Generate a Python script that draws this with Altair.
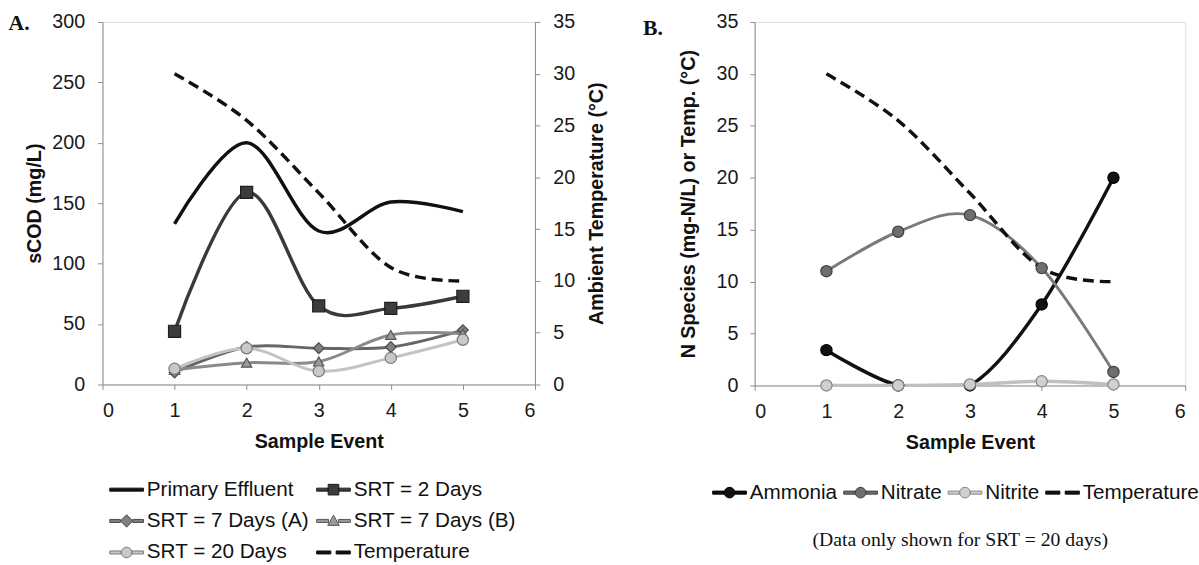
import altair as alt
import pandas as pd

# ---------------- data ----------------
events = [1, 2, 3, 4, 5]

# Panel A: sCOD (mg/L)
primary_effluent = [133, 200, 127, 151, 143]
srt_2_days = [44, 159, 65, 63, 73]
srt_7_days_a = [10, 31, 30, 31, 45]
srt_7_days_b = [12, 18, 19, 41, 42]
srt_20_days = [13, 30, 11, 22, 37]
# Ambient temperature (°C)
temperature = [30, 25.5, 18.5, 11.3, 10]

# Panel B: N species (mg-N/L), SRT = 20 days
ammonia = [3.4, 0, 0, 7.8, 20]
nitrate = [11, 14.8, 16.4, 11.3, 1.3]
nitrite = [0, 0, 0.1, 0.4, 0.1]

a_names = ["Primary Effluent", "SRT = 2 Days", "SRT = 7 Days (A)",
           "SRT = 7 Days (B)", "SRT = 20 Days", "Temperature"]
b_names = ["Ammonia", "Nitrate", "Nitrite", "Temperature"]

x_ticks = [0, 1, 2, 3, 4, 5, 6]
a_left_ticks = [0, 50, 100, 150, 200, 250, 300]
temp_ticks = [0, 5, 10, 15, 20, 25, 30, 35]


def long_df(names, series):
    rows = []
    for n, vals in zip(names, series):
        for e, v in zip(events, vals):
            rows.append({"event": e, "series": n, "value": v})
    return pd.DataFrame(rows)


df_a = long_df(a_names[:5], [primary_effluent, srt_2_days, srt_7_days_a,
                             srt_7_days_b, srt_20_days])
df_temp = long_df(["Temperature"], [temperature])
df_b = long_df(b_names, [ammonia, nitrate, nitrite, temperature])

# ---------------- styles ----------------
FONT = "Liberation Sans"
SERIF = "Liberation Serif"

axis_style = dict(domainColor="#8c8c8c", tickColor="#8c8c8c", tickSize=5,
                  labelFont=FONT, labelFontSize=20, labelColor="#1a1a1a",
                  titleFont=FONT, titleFontSize=20, titleFontWeight="bold",
                  titleColor="#111111", grid=False)

X = alt.X("event:Q", scale=alt.Scale(domain=[0, 6], nice=False),
          axis=alt.Axis(values=x_ticks, title="Sample Event", labelPadding=12,
                        titlePadding=11, **axis_style))

# line style: (color, width)
a_line = {
    "Primary Effluent": ("#111111", 3.5),
    "SRT = 2 Days": ("#3a3a3a", 3.5),
    "SRT = 7 Days (A)": ("#666666", 3),
    "SRT = 7 Days (B)": ("#8a8a8a", 3),
    "SRT = 20 Days": ("#c4c4c4", 3),
}
# marker style: (shape, fill, stroke, size)
a_marker = {
    "SRT = 2 Days": ("square", "#3c3c3c", "#1e1e1e", 150),
    "SRT = 7 Days (A)": ("diamond", "#808080", "#4a4a4a", 120),
    "SRT = 7 Days (B)": ("triangle-up", "#9a9a9a", "#555555", 110),
    "SRT = 20 Days": ("circle", "#c8c8c8", "#7a7a7a", 130),
}
b_line = {
    "Ammonia": ("#111111", 3.5),
    "Nitrate": ("#7a7a7a", 3),
    "Nitrite": ("#c0c0c0", 3.5),
}
b_marker = {
    "Ammonia": ("circle", "#111111", "#000000", 130),
    "Nitrate": ("circle", "#6e6e6e", "#404040", 130),
    "Nitrite": ("circle", "#cfcfcf", "#858585", 130),
}

# legend symbols (unit coordinates, scaled by sqrt(size)/2)
L = "M-1.9,-0.17H{a}V0.17H-1.9Z M{b},-0.17H1.9V0.17H{b}Z"
line_only = "M-1.9,-0.17H1.9V0.17H-1.9Z"
dashed = "M-1.9,-0.17H-0.3V0.17H-1.9Z M0.3,-0.17H1.9V0.17H0.3Z"
sq = L.format(a=-0.6, b=0.6) + " M-0.6,-0.6H0.6V0.6H-0.6Z"
dia = L.format(a=-0.7, b=0.7) + " M0,-0.7L0.7,0L0,0.7L-0.7,0Z"
tri = L.format(a=-0.55, b=0.55) + " M0,-0.65L0.65,0.5H-0.65Z"
circ = L.format(a=-0.6, b=0.6) + " M-0.6,0A0.6,0.6 0 1,0 0.6,0A0.6,0.6 0 1,0 -0.6,0Z"

a_leg_shapes = [line_only, sq, dia, tri, circ, dashed]
a_leg_fill = ["#111111", "#3c3c3c", "#808080", "#9a9a9a", "#c8c8c8", "#111111"]
a_leg_stroke = ["#111111", "#1e1e1e", "#4a4a4a", "#555555", "#7a7a7a", "#111111"]

b_leg_shapes = [circ, circ, circ, dashed]
b_leg_fill = ["#111111", "#6e6e6e", "#cfcfcf", "#111111"]
b_leg_stroke = ["#000000", "#404040", "#858585", "#111111"]


def legend_props(x, y, columns, col_pad, row_pad):
    return alt.Legend(title=None, orient="none", legendX=x, legendY=y,
                      direction="horizontal", columns=columns,
                      columnPadding=col_pad, rowPadding=row_pad,
                      labelFont=FONT, labelFontSize=21, labelColor="#111111",
                      labelLimit=400, labelOffset=10, symbolSize=324,
                      symbolStrokeWidth=1, symbolOpacity=1)


def legend_layer(df, names, shapes, fills, strokes, Y, leg):
    return alt.Chart(df).mark_point(filled=True, opacity=0).encode(
        x=X, y=Y,
        shape=alt.Shape("series:N", scale=alt.Scale(domain=names, range=shapes), legend=leg),
        fill=alt.Fill("series:N", scale=alt.Scale(domain=names, range=fills), legend=leg),
        stroke=alt.Stroke("series:N", scale=alt.Scale(domain=names, range=strokes), legend=leg),
    )


# ---------------- Panel A ----------------
Y_a = alt.Y("value:Q", scale=alt.Scale(domain=[0, 300], nice=False),
            axis=alt.Axis(values=a_left_ticks, title="sCOD (mg/L)", labelPadding=13,
                          titlePadding=8, **axis_style))
Y_t = alt.Y("value:Q", scale=alt.Scale(domain=[0, 35], nice=False),
            axis=alt.Axis(values=temp_ticks, title="Ambient Temperature (°C)",
                          orient="right", titleAngle=270, titleBaseline="top",
                          labelPadding=13, titlePadding=12, **axis_style))

a_layers = []
for name, (color, w) in a_line.items():
    a_layers.append(
        alt.Chart(df_a).transform_filter(alt.datum.series == name)
        .mark_line(interpolate="cardinal", color=color, strokeWidth=w, clip=True)
        .encode(x=X, y=Y_a))
for name, (shape, fill, stroke, size) in a_marker.items():
    a_layers.append(
        alt.Chart(df_a).transform_filter(alt.datum.series == name)
        .mark_point(shape=shape, filled=True, fill=fill, stroke=stroke,
                    strokeWidth=1.2, size=size, opacity=1)
        .encode(x=X, y=Y_a))
a_layers.append(legend_layer(df_a, a_names, a_leg_shapes, a_leg_fill, a_leg_stroke, Y_a,
                             legend_props(14, 464, 2, 5, 10)))

temp_a = alt.Chart(df_temp).mark_line(
    interpolate="cardinal", color="#111111", strokeWidth=3.5, strokeDash=[11, 6]
).encode(x=X, y=Y_t)

panel_a = alt.layer(alt.layer(*a_layers), temp_a).resolve_scale(y="independent").properties(
    width=439, height=368,
    title=alt.TitleParams("A.", anchor="start", frame="bounds", font=SERIF, fontSize=22,
                          fontWeight="bold", color="#111111", offset=0, dx=-16, dy=23))

# ---------------- Panel B ----------------
Y_b = alt.Y("value:Q", scale=alt.Scale(domain=[0, 35], nice=False),
            axis=alt.Axis(values=temp_ticks, title="N Species (mg-N/L) or Temp. (°C)",
                          labelPadding=12, titlePadding=18, **axis_style))

b_layers = []
for name, (color, w) in b_line.items():
    b_layers.append(
        alt.Chart(df_b).transform_filter(alt.datum.series == name)
        .mark_line(interpolate="cardinal", color=color, strokeWidth=w, clip=True)
        .encode(x=X, y=Y_b))
b_layers.append(
    alt.Chart(df_b).transform_filter(alt.datum.series == "Temperature")
    .mark_line(interpolate="cardinal", color="#111111", strokeWidth=3.5, strokeDash=[11, 6])
    .encode(x=X, y=Y_b))
for name, (shape, fill, stroke, size) in b_marker.items():
    b_layers.append(
        alt.Chart(df_b).transform_filter(alt.datum.series == name)
        .mark_point(shape=shape, filled=True, fill=fill, stroke=stroke,
                    strokeWidth=1.2, size=size, opacity=1)
        .encode(x=X, y=Y_b))
b_layers.append(legend_layer(df_b, b_names, b_leg_shapes, b_leg_fill, b_leg_stroke, Y_b,
                             legend_props(-36, 467, 4, 4, 10)))

panel_b_inner = alt.layer(*b_layers).properties(
    width=437, height=369,
    title=alt.TitleParams("B.", anchor="start", frame="bounds", font=SERIF, fontSize=22,
                          fontWeight="bold", color="#111111", offset=0, dx=-36, dy=28))

panel_b = alt.vconcat(panel_b_inner).properties(
    title=alt.TitleParams("(Data only shown for SRT = 20 days)", orient="bottom",
                          anchor="middle", font=SERIF, fontSize=20, fontWeight="normal",
                          color="#111111", offset=28, dx=40))

chart = alt.hconcat(panel_a, panel_b, spacing=36).resolve_scale(
    shape="independent", fill="independent", stroke="independent"
).resolve_legend(
    shape="independent", fill="independent", stroke="independent"
).properties(
    padding={"left": 8, "top": 7, "right": 0, "bottom": 0}
).configure_view(stroke="#555555", strokeWidth=1.2).configure(background="white")

chart.save("out.html", embed_options={"renderer": "svg", "actions": False})
